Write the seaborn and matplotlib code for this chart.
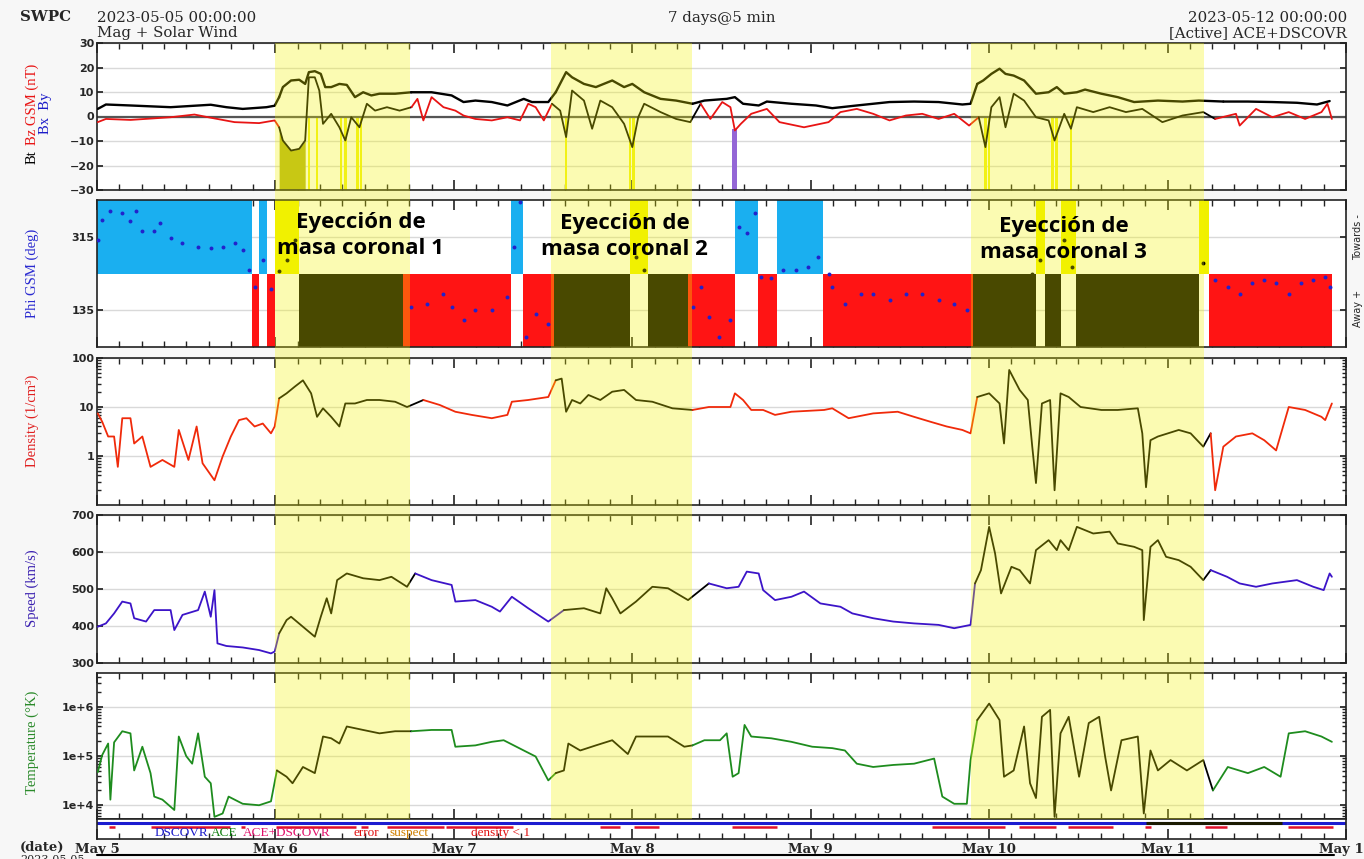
import numpy as np
import pandas as pd
import matplotlib.pyplot as plt
import seaborn as sns
from matplotlib.ticker import MultipleLocator, NullFormatter
from matplotlib.lines import Line2D

# all times are hours after 2023-05-05 00:00 UT
bt = [(0.1, 3.1), (1.2, 4.9), (4.5, 4.5), (9.9, 3.8), (15.3, 4.8), (17.4, 3.8), (19.6, 3.1), (22.8, 3.8),
      (23.9, 4.4), (24.5, 7.9), (25, 12), (26.1, 14.7), (27.2, 15), (28, 13.3), (28.5, 18.1), (29.3, 18.5),
      (30.1, 17.4), (30.7, 12), (31.5, 12), (32.6, 13.3), (33.6, 12.9), (34.7, 7.9), (35.8, 9.9), (36.9, 8.6),
      (38, 9.3), (40.1, 9.3), (42.3, 9.9), (45, 9.9), (47.7, 8.6), (49.3, 5.9), (50.9, 6.5), (53.1, 5.9),
      (55.2, 4.5), (57.4, 7.2), (58.5, 5.9), (60.7, 5.9), (61.7, 9.9), (63.1, 18.1), (63.9, 16), (65.5, 13.3),
      (67.1, 12), (69.3, 14.7), (70.9, 12), (72, 13.3), (73.6, 9.9), (75.8, 7.2), (77.9, 6.5), (80.1, 5.2),
      (81.7, 6.5), (83.8, 7.0), (84.7, 7.2), (85.8, 7.9), (86.9, 5.2), (89, 4.5), (90.1, 6.1), (93.4, 5.2),
      (96.7, 4.5), (98.9, 3.4), (102.2, 4.5), (106.6, 5.9), (109.9, 6.1), (113.2, 5.9), (116.4, 4.9),
      (117.5, 5.2), (118.4, 13.3), (119.2, 14.7), (120.3, 17.4), (121.4, 19.5), (122.2, 17.4), (123.3, 16.7),
      (124.7, 14.7), (126.3, 9.3), (128, 9.9), (129.1, 12), (130.1, 9.3), (131.8, 9.9), (132.9, 11),
      (135.1, 9.3), (137.3, 7.9), (139.5, 5.9), (142.7, 6.5), (146, 6.1), (148.2, 6.5), (151.5, 6.1),
      (154.8, 6.1), (158.1, 5.9), (161.4, 5.6), (164.1, 4.9), (165.8, 6.3)]

bz = [(0.1, -2.3), (1.2, -1), (4.5, -1.4), (9.9, -0.3), (13.1, 0.8), (15.3, -0.5), (18.5, -2.3), (21.8, -2.7),
      (23.9, -1.6), (24.5, -4.4), (25, -9.8), (26.1, -13.9), (27.2, -13.2), (28, -9.8), (28.5, 16), (29.3, 16),
      (29.9, 10.6), (30.4, -3), (31.5, 1.1), (32.6, -4.4), (33.4, -9.8), (34.2, -0.3), (35.3, -4.4), (36.3, 5.2),
      (37.4, 2.4), (39, 3.8), (40.7, 2.4), (42.3, 3.8), (43.1, 7.2), (43.9, -1.6), (45, 7.9), (46.6, 3.8),
      (48.2, 2.4), (49.3, 0.4), (50.9, -1), (53.1, -1.6), (55.2, -0.3), (56.9, -1.6), (58, 5.2), (59, 3.8),
      (60.1, -1.6), (61.2, 5.2), (62.3, 2.4), (63.1, -8.4), (63.9, 10.6), (65.5, 6.5), (66.6, -5), (67.7, 6.5),
      (69.3, 3.8), (70.9, -3), (72, -12.5), (72.8, -0.3), (73.6, 5.2), (75.8, 1.8), (77.9, -1), (79.8, -2.3),
      (81.2, 5.2), (82.5, -1), (84.1, 5.9), (85.2, 3.8), (85.8, -5.7), (86.6, -3), (88, 1.1), (90.1, 3.1),
      (91.8, -2.3), (95.1, -4.4), (98.4, -2.3), (100, 1.8), (102.2, 3.1), (104.4, 1.1), (106.6, -1.6),
      (108.8, 0.4), (111, 1.1), (113.2, -1), (115.3, 1.1), (117.3, -3.7), (118.6, -0.3), (119.5, -12.5),
      (120.3, 3.8), (121.4, 7.9), (122.2, -4.4), (123.3, 9.3), (124.7, 6.5), (126.3, -0.3), (128, -1.6),
      (128.8, -9.8), (130.1, 1.1), (131, -5), (131.8, 3.8), (134, 1.8), (136.2, 3.8), (138.4, 1.8),
      (140.6, 3.1), (143.3, -2.3), (146, 0.4), (148.8, 1.8), (150.4, -1), (153.2, 1.1), (153.7, -3.7),
      (155.9, 3.1), (158.1, -0.3), (160.3, 1.8), (162.5, -1), (164.7, 1.8), (165.5, 5.2), (166.1, -1)]

phi = [(0.1, 308), (0.7, 357), (1.8, 377), (3.4, 373), (4.5, 353), (5.3, 377), (6.1, 328), (7.7, 328),
       (8.5, 349), (9.9, 312), (11.5, 299), (13.6, 291), (15.3, 287), (16.9, 291), (18.5, 299), (19.6, 283),
       (20.4, 234), (21.2, 193), (22.3, 258), (23.4, 188), (24.5, 230), (25.5, 258), (26.6, 308), (27.7, 119),
       (29.3, 143), (30.1, 176), (31.5, 135), (33.6, 160), (35.8, 168), (38, 160), (40.1, 151), (42.3, 143),
       (44.4, 151), (46.6, 176), (47.7, 143), (49.3, 110), (50.9, 135), (53.1, 135), (55.2, 168), (56.1, 291),
       (56.9, 400), (57.7, 69), (59, 127), (60.7, 102), (62.3, 86), (63.9, 77), (65.5, 119), (66.6, 77),
       (68.2, 143), (69.8, 176), (70.9, 193), (72.5, 266), (73.6, 234), (74.7, 86), (76.8, 77), (79, 94),
       (80.1, 143), (81.2, 193), (82.3, 119), (83.6, 69), (85.2, 110), (86.3, 340), (87.4, 324), (88.5, 373),
       (89.3, 217), (90.7, 213), (92.3, 234), (94, 234), (95.6, 242), (97, 266), (98.4, 225), (98.9, 193),
       (100.6, 151), (102.7, 176), (104.4, 176), (106.6, 160), (108.8, 176), (111, 176), (113.2, 160),
       (115.3, 151), (117, 135), (118.6, 143), (120.8, 127), (123, 160), (124.7, 193), (125.8, 225),
       (126.9, 258), (128, 184), (129.1, 102), (130.1, 308), (131.2, 242), (132.3, 217), (134.5, 209),
       (136.7, 217), (138.9, 213), (141.1, 176), (143.3, 168), (145.5, 193), (147.7, 209), (148.8, 250),
       (150.4, 209), (152.1, 193), (153.7, 176), (155.4, 201), (157, 209), (158.6, 201), (160.3, 176),
       (161.9, 201), (163.6, 209), (165.2, 217), (165.8, 193)]

density = [(0.1, 7.4), (0.7, 5), (1.5, 2.5), (2.3, 2.5), (2.8, 0.6), (3.4, 5.9), (4.5, 5.9), (5, 1.8),
           (6.1, 2.5), (7.2, 0.6), (8.8, 0.83), (10.4, 0.6), (11, 3.4), (12.3, 0.83), (13.4, 4), (14.2, 0.71),
           (15.8, 0.32), (16.9, 0.98), (18, 2.5), (19.1, 5.4), (20.1, 5.9), (21.2, 4), (22.3, 4.6), (23.4, 2.9),
           (23.9, 4), (24.5, 15), (25.5, 19), (26.6, 26), (27.7, 35), (28.8, 19), (29.6, 6.3), (30.4, 9.4),
           (31.5, 6.3), (32.6, 4), (33.4, 11.8), (34.7, 11.8), (36.3, 13.9), (38, 13.9), (40.1, 12.8),
           (41.7, 10), (43.9, 13.9), (46.1, 11), (48.2, 8), (50.4, 6.9), (53.1, 5.9), (55.2, 6.9), (55.8, 12.8),
           (58, 13.9), (60.7, 16), (61.7, 35), (62.5, 38), (63.1, 8), (63.9, 13.9), (65, 11.8), (66.1, 17.6),
           (67.7, 13.9), (69.3, 20.5), (70.9, 22.3), (72.5, 13.9), (74.7, 12.8), (77.4, 9.4), (80.1, 8.7),
           (82.3, 10), (85.2, 10), (85.8, 19), (86.9, 13.9), (88, 8.7), (89.6, 8.7), (91.2, 6.9), (93.4, 8),
           (97.8, 8.7), (98.9, 9.4), (101.1, 5.9), (104.4, 7.4), (107.7, 8), (109.9, 6.3), (112.1, 5),
           (114.3, 4), (116.4, 3.4), (117.5, 2.9), (118.4, 16), (120, 19), (121.4, 11.8), (122, 1.8),
           (122.7, 57), (124.1, 22.3), (125.2, 13.9), (125.8, 1.55), (126.3, 0.28), (127.1, 11.8),
           (128.2, 13.9), (128.8, 0.2), (129.6, 19), (130.7, 16), (132.3, 10), (135.1, 8.7), (137.3, 8.7),
           (140, 9.4), (140.6, 2.9), (141.1, 0.23), (141.7, 2.1), (142.7, 2.5), (145.5, 3.4), (147.1, 2.9),
           (148.8, 1.55), (149.8, 2.9), (150.4, 0.2), (151.5, 1.55), (153.2, 2.5), (155.4, 2.9), (157, 2.1),
           (158.6, 1.3), (160.3, 10), (162.5, 8.7), (164.7, 6.3), (165.2, 5.4), (166.1, 11.8)]

speed = [(0.1, 398), (1.2, 407), (2.3, 434), (3.4, 466), (4.5, 461), (5, 421), (6.6, 412), (7.7, 443),
         (9.9, 443), (10.4, 389), (11.5, 430), (13.6, 443), (14.5, 493), (15.3, 425), (15.8, 497), (16.2, 353),
         (17.4, 346), (19.6, 342), (21.8, 335), (23.4, 326), (23.9, 331), (24.5, 380), (25.5, 416), (26.1, 425),
         (27.7, 398), (29.3, 371), (30.1, 425), (30.9, 475), (31.5, 434), (32.3, 524), (33.6, 542), (35.8, 529),
         (38, 524), (39.6, 533), (41.7, 506), (42.8, 542), (45, 524), (47.7, 511), (48.2, 466), (50.9, 470),
         (53.1, 452), (54.2, 439), (55.8, 479), (58, 448), (60.7, 412), (62.8, 443), (65.5, 448), (67.7, 434),
         (68.5, 502), (69.3, 475), (70.4, 434), (72.5, 466), (74.7, 506), (76.8, 502), (79.5, 470), (82.3, 515),
         (84.7, 502), (86.3, 506), (87.4, 547), (89, 542), (89.6, 497), (91.2, 470), (93.4, 479), (95.1, 493),
         (97.3, 461), (100, 452), (101.6, 434), (104.4, 421), (107.1, 412), (109.9, 407), (113.2, 403),
         (115.3, 394), (117.5, 403), (118.1, 515), (118.9, 551), (120, 668), (120.8, 596), (121.6, 488),
         (123, 560), (124.1, 551), (125.5, 515), (126.3, 605), (128, 632), (129.1, 605), (129.6, 632),
         (130.7, 605), (131.8, 668), (134, 650), (136.2, 655), (137.3, 623), (139.5, 614), (140.6, 605),
         (140.8, 416), (141.7, 614), (142.7, 632), (143.8, 587), (145.5, 578), (147.1, 560), (148.8, 524),
         (149.8, 551), (152, 533), (153.7, 515), (155.9, 506), (158.1, 515), (161.4, 524), (163.6, 506),
         (165, 497), (165.8, 542), (166.1, 533)]

temperature = [(0.1, 4.7e4), (0.7, 1.05e5), (1.5, 1.8e5), (1.8, 1.3e4), (2.3, 1.9e5), (3.4, 3.2e5),
               (4.5, 2.9e5), (5.0, 5.1e4), (6.1, 1.55e5), (7.2, 4.5e4), (7.7, 1.5e4), (8.8, 1.3e4),
               (10.4, 8e3), (11.0, 2.5e5), (12.0, 1e5), (12.8, 7e4), (13.6, 2.9e5), (14.5, 3.8e4), (15.3, 2.8e4),
               (15.8, 5.8e3), (16.9, 6.8e3), (17.7, 1.5e4), (19.6, 1.07e4), (21.8, 1e4), (23.4, 1.2e4),
               (24.2, 5.1e4), (25.5, 3.8e4), (26.3, 2.8e4), (27.7, 6e4), (29.3, 4.5e4), (30.4, 2.5e5),
               (31.5, 2.3e5), (32.6, 1.8e5), (33.6, 4e5), (35.8, 3.4e5), (38.0, 2.9e5), (40.1, 3.2e5),
               (42.3, 3.2e5), (45.0, 3.4e5), (47.7, 3.4e5), (48.2, 1.55e5), (50.9, 1.65e5), (53.1, 1.95e5),
               (54.7, 2.1e5), (57.4, 1.3e5), (59.0, 9.8e4), (60.7, 3.2e4), (61.7, 4.5e4), (62.8, 5.1e4),
               (63.4, 1.8e5), (65.0, 1.3e5), (67.1, 1.65e5), (69.3, 2.1e5), (71.4, 1.1e5), (72.5, 2.5e5),
               (74.7, 2.5e5), (76.8, 2.5e5), (79.0, 1.55e5), (80.1, 1.65e5), (81.7, 2.1e5), (83.8, 2.1e5),
               (84.7, 2.9e5), (85.5, 3.8e4), (86.3, 4.5e4), (87.1, 4.3e5), (88.0, 2.5e5), (90.7, 2.3e5),
               (93.4, 1.95e5), (96.2, 1.55e5), (98.9, 1.45e5), (100.6, 1.3e5), (102.2, 7e4), (104.4, 6e4),
               (107.1, 6.6e4), (109.9, 7e4), (112.6, 8.9e4), (113.7, 1.5e4), (115.3, 1.07e4), (117.0, 1.07e4),
               (117.5, 8.3e4), (118.4, 5.4e5), (120.0, 1.17e6), (121.4, 5.4e5), (122.0, 3.8e4), (123.3, 5.1e4),
               (124.7, 4e5), (125.5, 2.8e4), (126.3, 1.4e4), (127.1, 6.3e5), (128.2, 8.7e5), (128.8, 5.8e3),
               (129.6, 2.9e5), (130.7, 6.3e5), (132.1, 3.8e4), (133.4, 4.7e5), (134.8, 6.3e5), (135.6, 9.8e4),
               (136.4, 2e4), (137.8, 2.1e5), (140.0, 2.5e5), (140.8, 6.8e3), (141.7, 1.3e5), (142.7, 5.1e4),
               (144.4, 8.3e4), (146.6, 5.1e4), (148.8, 8.3e4), (150.1, 2e4), (152.1, 6e4), (154.8, 4.5e4),
               (157.0, 6e4), (159.2, 3.8e4), (160.3, 2.9e5), (162.5, 3.2e5), (164.7, 2.5e5), (166.1, 1.95e5)]

# highlighted CME intervals and their labels
cme_start = [24.0, 61.0, 117.6]
cme_end = [42.1, 80.0, 148.9]
cme_labels = ['Eyección de\nmasa coronal 1', 'Eyección de\nmasa coronal 2', 'Eyección de\nmasa coronal 3']
cme_label_at = [(35.5, 318), (71.0, 315), (130.0, 308)]

# flagged Bz samples (bright bars), dense flagged span, and the purple spike
bz_flags = [28.5, 29.6, 32.8, 33.4, 35.0, 35.5, 63.1, 71.7, 72.2, 119.5, 120.0, 128.5, 129.1, 131.0]
bz_flag_span = (24.4, 28.1)
bz_purple = [85.6, 85.9]

# source / quality strip
density_low = [(1.6, 2.4), (7.3, 17.9), (19.4, 19.9), (24.1, 34.8), (35.5, 36.5), (39, 46.7), (47, 56),
               (67.7, 70.4), (72.2, 75.6), (85.4, 91.4), (112.3, 122.2), (124, 129), (130.6, 136.6),
               (140.9, 141.8), (149, 152), (160.2, 166.2)]
ace_span = (141.1, 159.4)
legend_items = [('DSCOVR', '#1a1ac8'), ('ACE', '#108010'), ('ACE+DSCOVR', '#e0106a'),
                ('error', '#e01010'), ('suspect', '#d08000'), ('density < 1', '#e01010')]
day_labels = ['May 5', 'May 6', 'May 7', 'May 8', 'May 9', 'May 10', 'May 11', 'May 12']

sns.set_theme(style='ticks')
plt.rcParams['font.family'] = ['DejaVu Serif']

W, H = 1364, 859
fig = plt.figure(figsize=(W / 100, H / 100), dpi=100, facecolor='#f7f7f7')


def box(y1, y2, x1=97, x2=1346):
    return [x1 / W, 1 - y2 / H, (x2 - x1) / W, (y2 - y1) / H]


def ftext(px, py, s, **kw):
    fig.text(px / W, 1 - py / H, s, **kw)


def in_cme(t):
    t = np.asarray(t)
    m = np.zeros(len(t), bool)
    for a, b in zip(cme_start, cme_end):
        m |= (t >= a) & (t <= b)
    return m


def trace(ax, pairs, color, lw=1.4):
    df = pd.DataFrame(pairs, columns=['h', 'v'])
    df['cme'] = in_cme(df.h)
    seg = (df.cme != df.cme.shift()).cumsum()
    for _, g in df.groupby(seg):
        nxt = g.index[-1] + 1
        if nxt < len(df):
            g = pd.concat([g, df.loc[[nxt]]])
        c = 'black' if g.cme.iloc[0] else color
        sns.lineplot(data=g, x='h', y='v', ax=ax, color=c, lw=lw, estimator=None, sort=False, zorder=3)
    ax.set(xlabel='', ylabel='')


ax_b = fig.add_axes(box(43, 190))
ax_p = fig.add_axes(box(200, 347))
ax_n = fig.add_axes(box(358, 505))
ax_v = fig.add_axes(box(515, 663))
ax_t = fig.add_axes(box(673, 819))
ax_s = fig.add_axes(box(819, 839))
panels = [ax_b, ax_p, ax_n, ax_v, ax_t]

for ax in panels + [ax_s]:
    ax.set_facecolor('white')
    ax.set_xlim(0, 168)
    ax.xaxis.set_major_locator(MultipleLocator(24))
    ax.xaxis.set_minor_locator(MultipleLocator(3))
    ax.tick_params(axis='x', which='both', direction='in', top=True, bottom=True,
                   labelbottom=False, color='#222')
    ax.tick_params(axis='x', which='major', length=7, width=1.2)
    ax.tick_params(axis='x', which='minor', length=4, width=1)
    ax.tick_params(axis='y', which='both', direction='in', left=True, right=True,
                   labelsize=8, length=4, color='#222', pad=2)
    for sp in ax.spines.values():
        sp.set_color('#222')
        sp.set_linewidth(1.2)
    ax.grid(axis='y', color='#d9d9d9', lw=1)
    ax.set_axisbelow(True)

# --- Bt / Bz ---
bz_df = pd.DataFrame(bz, columns=['h', 'v'])
span = (bz_df.h >= bz_flag_span[0]) & (bz_df.h <= bz_flag_span[1])
ax_b.fill_between(bz_df.h, bz_df.v, -30, where=span, color='#b5b51d', lw=0, zorder=1.5)
ax_b.bar(bz_flags, 30, bottom=-30, width=0.35, color='#f0f020', lw=0, zorder=1.6)
ax_b.bar(bz_purple, 25, bottom=-30, width=0.35, color='#9466d6', lw=0, zorder=1.6)
ax_b.axhline(0, color='#555', lw=1.6, zorder=2)
trace(ax_b, bz, '#e81414', 1.3)
trace(ax_b, bt, 'black', 1.7)
ax_b.set_ylim(-30, 30)
ax_b.set_yticks(range(-30, 31, 10))

# --- Phi: sector fill, one bar per sample, edges halfway to the neighbours ---
ph = pd.DataFrame(phi, columns=['h', 'v'])
ph['cme'] = in_cme(ph.h)
ph['up'] = ph.v > 225
mid = ((ph.h.values[1:] + ph.h.values[:-1]) / 2).tolist()
left = np.array([2 * ph.h.iloc[0] - mid[0]] + mid)
right = np.array(mid + [2 * ph.h.iloc[-1] - mid[-1]])
ph['left'] = np.clip(left, 0, None)
ph['w'] = right - ph['left']
fills = {(True, False): '#1aaff0', (False, False): '#ff1414', (True, True): '#f0f000', (False, True): 'black'}
for (up, cme), c in fills.items():
    sub = ph[(ph.up == up) & (ph.cme == cme)]
    ax_p.bar(sub.left, 180, bottom=225 if up else 45, width=sub.w, align='edge',
             color=c, lw=0, antialiased=False, zorder=1.5)
sns.scatterplot(data=ph[~ph.cme], x='h', y='v', ax=ax_p, color='#2222cc', s=8, linewidth=0, zorder=3)
sns.scatterplot(data=ph[ph.cme], x='h', y='v', ax=ax_p, color='black', s=8, linewidth=0, zorder=3)
ax_p.set(xlabel='', ylabel='')
ax_p.set_ylim(45, 405)
ax_p.set_yticks([135, 315])

# --- Density ---
trace(ax_n, density, '#f02a0a', 1.3)
ax_n.set_yscale('log')
ax_n.set_ylim(0.1, 100)
ax_n.set_yticks([1, 10, 100], ['1', '10', '100'])

# --- Speed ---
trace(ax_v, speed, '#3c14c8', 1.3)
ax_v.set_ylim(300, 700)
ax_v.set_yticks(range(300, 701, 100))

# --- Temperature ---
trace(ax_t, temperature, '#1e8c1e', 1.3)
ax_t.set_yscale('log')
ax_t.set_ylim(10 ** 3.72, 10 ** 6.69)
ax_t.set_yticks([1e4, 1e5, 1e6], ['1e+4', '1e+5', '1e+6'])

for ax in [ax_n, ax_t]:
    ax.yaxis.set_minor_formatter(NullFormatter())
    ax.tick_params(axis='y', which='minor', length=3)
for ax in panels:
    ax.set_xlim(0, 168)
    plt.setp(ax.get_yticklabels(), fontweight='bold', family=['DejaVu Sans'])

# --- source / flag strip ---
ax_s.set_ylim(0, 1)
ax_s.set_yticks([])
ax_s.grid(False)
ax_s.axhline(0.8, color='#1c1cd0', lw=2.2)
ax_s.hlines(0.8, *ace_span, color='#1a1a00', lw=2.2)
for a, b in density_low:
    ax_s.hlines(0.62, a, b, color='#e0102a', lw=1.8)
ax_s.tick_params(axis='x', which='both', top=False, labelbottom=True, pad=3)
ax_s.set_xticks(range(0, 169, 24), day_labels, fontsize=9.5, fontweight='bold')
legend_x = [155, 211, 243, 354, 389, 471]
for (lab, c), px in zip(legend_items, legend_x):
    ftext(px, 833, lab, color=c, fontsize=9.5, va='center', ha='left',
          family=['Liberation Serif', 'DejaVu Serif'])

# --- CME highlight overlay ---
ov = fig.add_axes(box(43, 819), zorder=10)
ov.set_xlim(0, 168)
ov.set_ylim(0, 1)
ov.axis('off')
for a, b in zip(cme_start, cme_end):
    ov.axvspan(a, b, color='#f4f400', alpha=0.3, lw=0)
for lab, (hx, py) in zip(cme_labels, cme_label_at):
    ov.text(hx, py, lab, transform=ax_p.transData, ha='center', va='center', ma='center',
            fontsize=16, fontweight='bold', family=['Open Sans', 'DejaVu Sans'],
            linespacing=1.3, color='black', zorder=20)

# --- header and axis titles ---
hdr = dict(fontsize=10.8, va='center')
ftext(20, 17, 'SWPC', fontweight='bold', **hdr)
ftext(97, 18, '2023-05-05 00:00:00', **hdr)
ftext(97, 33, 'Mag + Solar Wind', **hdr)
ftext(722, 18, '7 days@5 min', ha='center', **hdr)
ftext(1347, 18, '2023-05-12 00:00:00', ha='right', **hdr)
ftext(1347, 33, '[Active] ACE+DSCOVR', ha='right', **hdr)

ylab = dict(rotation=90, fontsize=10.5, va='center', ha='center', family=['Liberation Serif', 'DejaVu Serif'])
ftext(32, 157, 'Bt', color='black', **ylab)
ftext(32, 104, 'Bz GSM (nT)', color='#e81414', **ylab)
ftext(46, 113, 'Bx  By', color='#1a1ac8', **ylab)
ftext(32, 273, 'Phi GSM (deg)', color='#2a2ad0', **ylab)
ftext(32, 421, 'Density (1/cm³)', color='#e02020', **ylab)
ftext(32, 588, 'Speed (km/s)', color='#3a20b0', **ylab)
ftext(32, 742, 'Temperature (°K)', color='#2a8a2a', **ylab)
side = dict(rotation=90, fontsize=7, va='center', ha='center', family=['DejaVu Sans'])
ftext(1358, 237, 'Towards -', **side)
ftext(1358, 308, 'Away +', **side)

ftext(20, 847, '(date)', fontsize=9.5, fontweight='bold', va='center')
ftext(20, 860, '2023-05-05', fontsize=8, va='center')
fig.add_artist(Line2D([97 / W, 1334 / W], [1 - 855 / H] * 2, color='black', lw=1.5))

fig.savefig('out.png', dpi=100, facecolor=fig.get_facecolor())
